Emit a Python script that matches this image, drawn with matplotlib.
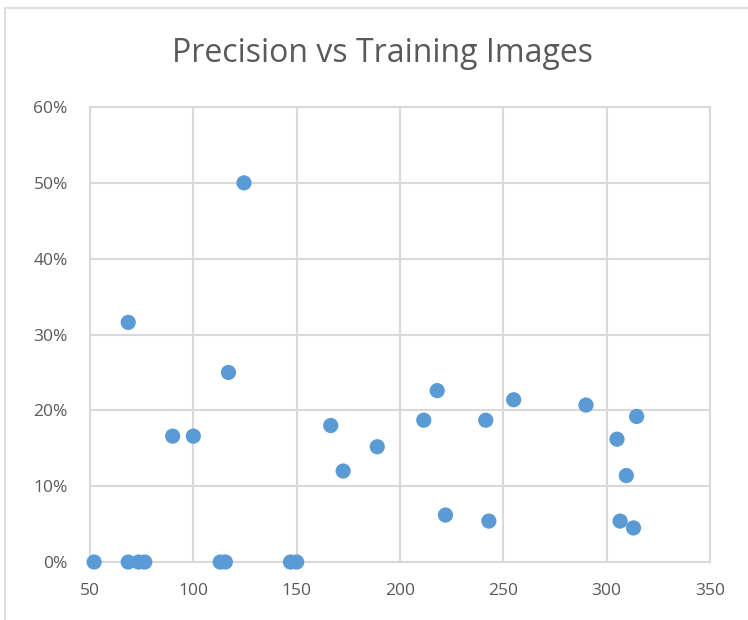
import matplotlib

matplotlib.use("Agg")
import matplotlib.pyplot as plt
from matplotlib.patches import Rectangle
from matplotlib.ticker import FuncFormatter

# Training image count per run and the precision it reached (fraction)
training_images = [
    52, 68.5, 73.5, 76.5, 113, 115.5, 147, 150,
    68.5, 124.5, 117, 90, 100, 166.5, 172.5, 189,
    211.5, 218, 222, 241.5, 243, 255, 290,
    314.5, 305, 309.5, 306.5, 313,
]
precision = [
    0, 0, 0, 0, 0, 0, 0, 0,
    0.316, 0.50, 0.25, 0.166, 0.166, 0.18, 0.12, 0.152,
    0.187, 0.226, 0.062, 0.187, 0.054, 0.214, 0.207,
    0.192, 0.162, 0.114, 0.054, 0.045,
]

x_ticks = [50, 100, 150, 200, 250, 300, 350]
y_ticks = [0, 0.1, 0.2, 0.3, 0.4, 0.5, 0.6]

GRID = "#D9D9D9"
TEXT = "#595959"
POINT = "#5B9BD5"

plt.rcParams["font.family"] = ["Open Sans", "DejaVu Sans"]

fig = plt.figure(figsize=(7.48, 6.2), dpi=100)
fig.patches.append(Rectangle((0.007, -0.01), 1.0, 0.997, transform=fig.transFigure,
                             fill=False, edgecolor=GRID, linewidth=1.2))

ax = fig.add_axes([0.1203, 0.0935, 0.8289, 0.7339])
ax.scatter(training_images, precision, s=120, color=POINT, edgecolors="none",
           zorder=3, clip_on=False)

ax.set_xlim(50, 350)
ax.set_ylim(0, 0.6)
ax.set_xticks(x_ticks)
ax.set_yticks(y_ticks)
ax.yaxis.set_major_formatter(FuncFormatter(lambda v, _: f"{v * 100:.0f}%"))
ax.grid(True, color=GRID, linewidth=1.5)
ax.set_axisbelow(True)
for side in ax.spines.values():
    side.set_color(GRID)
    side.set_linewidth(1.5)
ax.tick_params(length=0, labelsize=12.5, labelcolor=TEXT)
ax.tick_params(axis="y", pad=16)
ax.tick_params(axis="x", pad=15)

fig.text(0.512, 0.913, "Precision vs Training Images", ha="center", va="center",
         fontsize=23, color=TEXT)

fig.savefig("out.png", dpi=100)
